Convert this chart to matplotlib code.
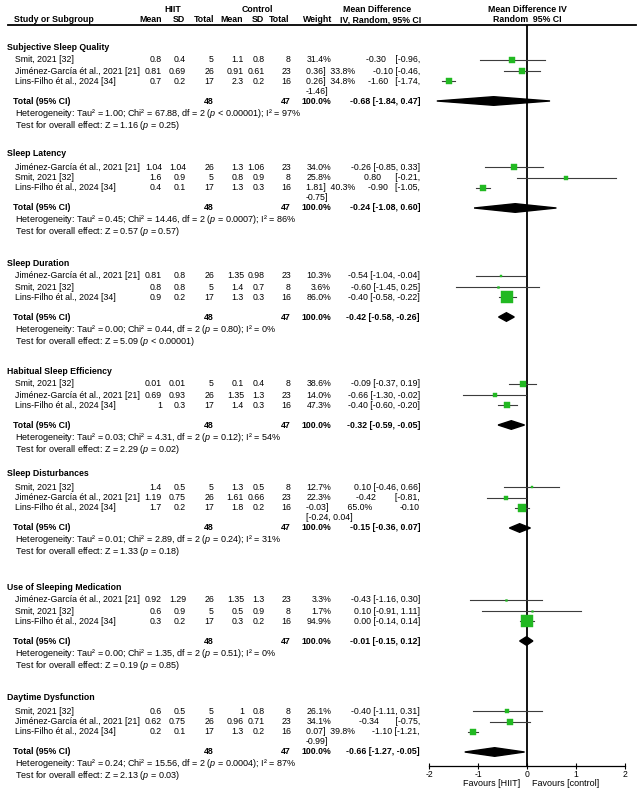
import matplotlib.pyplot as plt
from matplotlib.patches import Polygon

plt.rcParams['font.family'] = ['Liberation Sans', 'DejaVu Sans']
plt.rcParams['mathtext.fontset'] = 'custom'
plt.rcParams['mathtext.rm'] = 'Liberation Sans'
plt.rcParams['mathtext.it'] = 'Liberation Sans:italic'
plt.rcParams['mathtext.bf'] = 'Liberation Sans:bold'

SMIT = "Smit, 2021 [32]"
JIM = "Jiménez-García ét al., 2021 [21]"
LINS = "Lins-Filho ét al., 2024 [34]"

SUBGROUPS = ["Subjective Sleep Quality", "Sleep Latency", "Sleep Duration",
             "Habitual Sleep Efficiency", "Sleep Disturbances",
             "Use of Sleeping Medication", "Daytime Dysfunction"]
STUDIES = [[SMIT, JIM, LINS], [JIM, SMIT, LINS], [JIM, SMIT, LINS],
           [SMIT, JIM, LINS], [SMIT, JIM, LINS], [JIM, SMIT, LINS],
           [SMIT, JIM, LINS]]

HIIT_MEAN = [[0.8, 0.81, 0.7], [1.04, 1.6, 0.4], [0.81, 0.8, 0.9], [0.01, 0.69, 1],
             [1.4, 1.19, 1.7], [0.92, 0.6, 0.3], [0.6, 0.62, 0.2]]
HIIT_SD = [[0.4, 0.69, 0.2], [1.04, 0.9, 0.1], [0.8, 0.8, 0.2], [0.01, 0.93, 0.3],
           [0.5, 0.75, 0.2], [1.29, 0.9, 0.2], [0.5, 0.75, 0.1]]
CTRL_MEAN = [[1.1, 0.91, 2.3], [1.3, 0.8, 1.3], [1.35, 1.4, 1.3], [0.1, 1.35, 1.4],
             [1.3, 1.61, 1.8], [1.35, 0.5, 0.3], [1, 0.96, 1.3]]
CTRL_SD = [[0.8, 0.61, 0.2], [1.06, 0.9, 0.3], [0.98, 0.7, 0.3], [0.4, 1.3, 0.3],
           [0.5, 0.66, 0.2], [1.3, 0.9, 0.2], [0.8, 0.71, 0.2]]
N_HIIT = {SMIT: 5, JIM: 26, LINS: 17}
N_CTRL = {SMIT: 8, JIM: 23, LINS: 16}

WEIGHTS = [[31.4, 33.8, 34.8], [34.0, 25.8, 40.3], [10.3, 3.6, 86.0], [38.6, 14.0, 47.3],
           [12.7, 22.3, 65.0], [3.3, 1.7, 94.9], [26.1, 34.1, 39.8]]
MD = [[-0.30, -0.10, -1.60], [-0.26, 0.80, -0.90], [-0.54, -0.60, -0.40],
      [-0.09, -0.66, -0.40], [0.10, -0.42, -0.10], [-0.43, 0.10, 0.00],
      [-0.40, -0.34, -1.10]]
CI_LO = [[-0.96, -0.46, -1.74], [-0.85, -0.21, -1.05], [-1.04, -1.45, -0.58],
         [-0.37, -1.30, -0.60], [-0.46, -0.81, -0.24], [-1.16, -0.91, -0.14],
         [-1.11, -0.75, -1.21]]
CI_HI = [[0.36, 0.26, -1.46], [0.33, 1.81, -0.75], [-0.04, 0.25, -0.22],
         [0.19, -0.02, -0.20], [0.66, -0.03, 0.04], [0.30, 1.11, 0.14],
         [0.31, 0.07, -0.99]]

TOTAL_MD = [-0.68, -0.24, -0.42, -0.32, -0.15, -0.01, -0.66]
TOTAL_LO = [-1.84, -1.08, -0.58, -0.59, -0.36, -0.15, -1.27]
TOTAL_HI = [0.47, 0.60, -0.26, -0.05, 0.07, 0.12, -0.05]

HETEROGENEITY = [
    "Tau² = 1.00; Chi² = 67.88, df = 2 ($p$ < 0.00001); I² = 97%",
    "Tau² = 0.45; Chi² = 14.46, df = 2 ($p$ = 0.0007); I² = 86%",
    "Tau² = 0.00; Chi² = 0.44, df = 2 ($p$ = 0.80); I² = 0%",
    "Tau² = 0.03; Chi² = 4.31, df = 2 ($p$ = 0.12); I² = 54%",
    "Tau² = 0.01; Chi² = 2.89, df = 2 ($p$ = 0.24); I² = 31%",
    "Tau² = 0.00; Chi² = 1.35, df = 2 ($p$ = 0.51); I² = 0%",
    "Tau² = 0.24; Chi² = 15.56, df = 2 ($p$ = 0.0004); I² = 87%",
]
OVERALL = ["Z = 1.16 ($p$ = 0.25)", "Z = 0.57 ($p$ = 0.57)", "Z = 5.09 ($p$ < 0.00001)",
           "Z = 2.29 ($p$ = 0.02)", "Z = 1.33 ($p$ = 0.18)", "Z = 0.19 ($p$ = 0.85)",
           "Z = 2.13 ($p$ = 0.03)"]

# the weight / CI column wraps oddly in some subgroups of the original
WRAPPED = {
    0: [("31.4%", "-0.30    [-0.96,"), ("0.36]  33.8%", "-0.10 [-0.46,"),
        ("0.26]  34.8%", "-1.60   [-1.74,"), ("-1.46]", "")],
    1: [("34.0%", "-0.26 [-0.85, 0.33]"), ("25.8%", "0.80      [-0.21,"),
        ("1.81]  40.3%", "-0.90   [-1.05,"), ("-0.75]", "")],
    4: [("12.7%", "0.10 [-0.46, 0.66]"), ("22.3%", "-0.42        [-0.81,"),
        ("-0.03]        65.0%", "-0.10"), ("[-0.24, 0.04]", "")],
    6: [("26.1%", "-0.40 [-1.11, 0.31]"), ("34.1%", "-0.34       [-0.75,"),
        ("0.07]  39.8%", "-1.10 [-1.21,"), ("-0.99]", "")],
}

GROUP_TOP = [47, 154, 263, 371, 474, 587, 698]

GREEN = "#22b922"
FS = 6.3
FS_NOTE = 6.5

fig = plt.figure(figsize=(6.4, 7.91), dpi=100)
tax = fig.add_axes([0, 0, 1, 1])
tax.set_xlim(0, 640)
tax.set_ylim(791, 0)
tax.axis("off")

fax = fig.add_axes([429 / 640, 25 / 791, 196 / 640, 741 / 791])
fax.set_xlim(-2, 2)
fax.set_ylim(766, 25)
fax.patch.set_alpha(0)
for s in ("top", "left", "right"):
    fax.spines[s].set_visible(False)
fax.spines["bottom"].set_linewidth(0.9)
fax.set_yticks([])
fax.set_xticks([-2, -1, 0, 1, 2])
fax.set_xticklabels(["-2", "-1", "0", "1", "2"], fontsize=6.2)
fax.tick_params(axis="x", direction="inout", length=5, width=0.8, pad=0.5)
fax.axvline(0, color="black", lw=1.3, zorder=1)


def txt(x, y, s, ha="left", bold=False, size=FS):
    tax.text(x, y, s, ha=ha, va="center", fontsize=size,
             fontweight="bold" if bold else "normal")


# header
txt(173, 9, "HIIT", "center", True)
txt(257, 9, "Control", "center", True)
txt(377, 9, "Mean Difference", "center", True)
txt(527, 9, "Mean Difference IV", "center", True)
txt(14, 20, "Study or Subgroup", bold=True)
for x, lab in [(162, "Mean"), (185, "SD"), (214, "Total"),
               (243, "Mean"), (264, "SD"), (289, "Total")]:
    txt(x, 20, lab, "right", True)
txt(303, 20, "Weight", bold=True)
txt(421, 20, "IV, Random, 95% CI", "right", True)
txt(527, 20, "Random  95% CI", "center", True)
tax.plot([8, 636], [25, 25], color="black", lw=1.3)

COLS = [162, 186, 214, 244, 265, 291]

for g, name in enumerate(SUBGROUPS):
    top = GROUP_TOP[g]
    rows = [top + 13, top + 24, top + 34]
    y_tot = top + 54
    txt(7, top, name, bold=True)
    for i, study in enumerate(STUDIES[g]):
        y = rows[i]
        txt(15, y, study)
        vals = [f"{HIIT_MEAN[g][i]:g}", f"{HIIT_SD[g][i]:g}", str(N_HIIT[study]),
                f"{CTRL_MEAN[g][i]:g}", f"{CTRL_SD[g][i]:g}", str(N_CTRL[study])]
        for x, v in zip(COLS, vals):
            txt(x, y, v, "right")
        # forest marks
        fax.plot([CI_LO[g][i], CI_HI[g][i]], [y, y], color="#3c3c3c", lw=0.8, zorder=2)
        side = 1.5 + 0.115 * WEIGHTS[g][i]
        fax.plot(MD[g][i], y, marker="s", ms=side / 1.389, color=GREEN,
                 mec=GREEN, mew=0.3, zorder=3)

    if g in WRAPPED:
        lines = WRAPPED[g]
    else:
        lines = [(f"{WEIGHTS[g][i]:.1f}%",
                  f"{MD[g][i]:.2f} [{CI_LO[g][i]:.2f}, {CI_HI[g][i]:.2f}]")
                 for i in range(3)]
    ys = rows + [top + 44]
    for (left, right), y in zip(lines, ys):
        if "]" in left or len(left) > 6:
            txt(306, y, left)
        else:
            txt(331, y, left, "right")
        if right:
            txt(420, y, right, "right")

    txt(13, y_tot, "Total (95% CI)", bold=True)
    txt(214, y_tot, "48", "right", True)
    txt(291, y_tot, "47", "right", True)
    txt(331, y_tot, "100.0%", "right", True)
    txt(420, y_tot, f"{TOTAL_MD[g]:.2f} [{TOTAL_LO[g]:.2f}, {TOTAL_HI[g]:.2f}]",
        "right", True)
    txt(15, y_tot + 12, "Heterogeneity: " + HETEROGENEITY[g], size=FS_NOTE)
    txt(15, y_tot + 24, "Test for overall effect: " + OVERALL[g], size=FS_NOTE)

    h = 4.3
    fax.add_patch(Polygon([(TOTAL_LO[g], y_tot), (TOTAL_MD[g], y_tot - h),
                           (TOTAL_HI[g], y_tot), (TOTAL_MD[g], y_tot + h)],
                          closed=True, color="black", zorder=4))

txt(520, 783, "Favours [HIIT]", "right", size=6.5)
txt(532, 783, "Favours [control]", size=6.5)

fig.savefig("out.png", dpi=100)
